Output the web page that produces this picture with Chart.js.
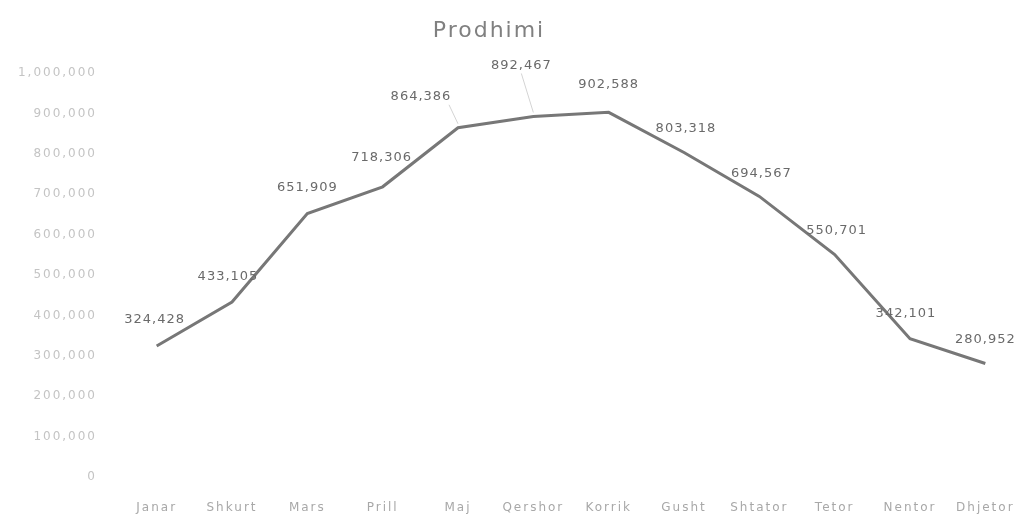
<!DOCTYPE html>
<html>
<head>
<meta charset="utf-8">
<script src="https://cdn.jsdelivr.net/npm/chart.js@4.4.0/dist/chart.umd.min.js"></script>
<style>
  body { margin: 0; background: #fff; overflow: hidden; }
  canvas { display: block; }
</style>
</head>
<body>
<canvas id="prodChart" width="1023" height="518"></canvas>
<script>
// muajt dhe prodhimi
const months = ['Janar', 'Shkurt', 'Mars', 'Prill', 'Maj', 'Qershor', 'Korrik', 'Gusht', 'Shtator', 'Tetor', 'Nentor', 'Dhjetor'];
const production = [324428, 433105, 651909, 718306, 864386, 892467, 902588, 803318, 694567, 550701, 342101, 280952];
const yTicks = [0, 100000, 200000, 300000, 400000, 500000, 600000, 700000, 800000, 900000, 1000000];
const chartTitle = 'Prodhimi';

// zhvendosja e etiketave (si ne Excel, disa jane levizur me dore)
const labelShift = [[-2, -26], [-4, -25], [0, -26], [-1, -29], [-37, -31], [-12, -51], [0, -28], [2, -24], [2, -23], [2, -24], [-4, -25], [0, -24]];

const fmt = v => v.toLocaleString('en-US');

// hapesira mes shkronjave per boshtet
const spacing = {
    id: 'spacing',
    beforeDraw(chart) {
        chart.ctx.letterSpacing = '2px';
    }
};

const dataLabels = {
    id: 'dataLabels',
    afterDatasetsDraw(chart) {
        const ctx = chart.ctx;
        const meta = chart.getDatasetMeta(0);
        ctx.save();
        ctx.letterSpacing = '1px';
        ctx.font = '13px "DejaVu Sans"';
        ctx.textAlign = 'center';
        ctx.textBaseline = 'middle';
        meta.data.forEach((pt, i) => {
            const [dx, dy] = labelShift[i];
            const lx = pt.x + dx, ly = pt.y + dy;
            // vija lidhese per etiketat e levizura
            if (Math.abs(dx) > 10 || dy < -40) {
                ctx.strokeStyle = '#d4d4d4';
                ctx.lineWidth = 1;
                ctx.beginPath();
                ctx.moveTo(lx + (dx < -20 ? 28 : 0), ly + 8);
                ctx.lineTo(pt.x, pt.y - 4);
                ctx.stroke();
            }
            ctx.fillStyle = '#6a6a6a';
            ctx.fillText(fmt(production[i]), lx, ly);
        });
        // titulli
        ctx.letterSpacing = '2px';
        ctx.font = '22px "DejaVu Sans"';
        ctx.fillStyle = '#808080';
        ctx.fillText(chartTitle, 489, 31);
        ctx.restore();
    }
};

new Chart(document.getElementById('prodChart').getContext('2d'), {
    type: 'line',
    data: {
        labels: months,
        datasets: [{
            data: production,
            borderColor: '#777777',
            borderWidth: 3,
            pointRadius: 0,
            tension: 0,
            fill: false
        }]
    },
    options: {
        responsive: false,
        animation: false,
        layout: { padding: { top: 73, right: 0, bottom: 0, left: 0 } },
        plugins: {
            legend: { display: false },
            tooltip: { enabled: false },
            title: { display: false }
        },
        scales: {
            x: {
                offset: true,
                grid: { display: false, drawTicks: false },
                border: { display: false },
                ticks: {
                    color: '#a8a8a8',
                    font: { family: 'DejaVu Sans', size: 12 },
                    padding: 24,
                    maxRotation: 0,
                    autoSkip: false
                },
                afterFit(scale) {
                    scale.height = 41;
                    scale.paddingLeft = 0;
                    scale.paddingRight = 0;
                }
            },
            y: {
                min: 0,
                max: 1000000,
                grid: { display: false, drawTicks: false },
                border: { display: false },
                afterBuildTicks(scale) { scale.ticks = yTicks.map(v => ({ value: v })); },
                ticks: {
                    color: '#c4c4c4',
                    font: { family: 'DejaVu Sans', size: 12 },
                    padding: 22,
                    callback: v => fmt(v)
                },
                afterFit(scale) {
                    scale.width = 119;
                    scale.paddingTop = 0;
                    scale.paddingBottom = 0;
                }
            }
        }
    },
    plugins: [spacing, dataLabels]
});
</script>
</body>
</html>
